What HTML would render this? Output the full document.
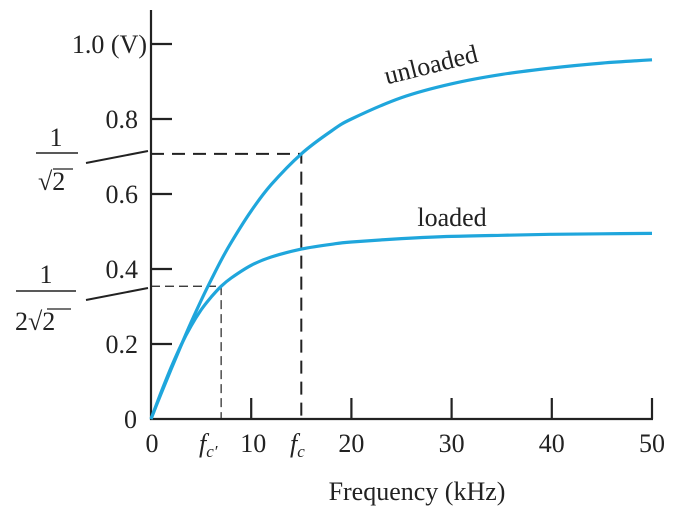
<!DOCTYPE html>
<html><head><meta charset="utf-8"><style>
body{margin:0;background:#fff}
text{font-family:"Liberation Serif","DejaVu Serif",serif !important;fill:#222}
</style></head><body>
<svg width="684" height="521" viewBox="0 0 684 521" style="position:absolute;left:0;top:0">
<g id="axes" stroke="#222" stroke-width="2.2" fill="none"></g>
<g id="guides"></g>
<g id="series"></g>
<g id="labels"></g>
</svg>
<script>
const freqs=[0,1,2,3,4,5,6,7,8,10,12,15,18,20,25,30,35,40,45,50];
const unloaded=[0,.067,.132,.196,.258,.316,.371,.423,.471,.555,.625,.707,.768,.8,.857,.894,.919,.936,.949,.958];
const loaded=[0,.071,.137,.197,.248,.291,.325,.354,.376,.41,.432,.453,.466,.472,.481,.487,.49,.4925,.494,.495];
const xTicks=[10,20,30,40,50];
const yTicks=[0.2,0.4,0.6,0.8,1.0];
const yTickLabels=["0.2","0.4","0.6","0.8","1.0 (V)"];
const fc=15, fcp=7, vfc=0.707, vfcp=0.354;

const X=f=>151+f*10.02, Y=v=>419-v*375;
const NS="http://www.w3.org/2000/svg";
function mk(parent,tag,attrs,text){const e=document.createElementNS(NS,tag);for(const k in attrs)e.setAttribute(k,attrs[k]);if(text!==undefined)e.textContent=text;document.getElementById(parent).appendChild(e);return e;}

let e=mk('axes','path',{d:`M151 10 V419 H653`});


xTicks.forEach(t=>{const l=mk('axes','line',{x1:X(t),x2:X(t),y1:419,y2:398});


const tx=mk('labels','text',{x:X(t)+(t===10?2:0),y:452,'font-size':26,'text-anchor':'middle'},String(t));

});
yTicks.forEach((t,i)=>{const l=mk('axes','line',{x1:151,x2:172,y1:Y(t),y2:Y(t)});


const tx=mk('labels','text',{x:i===4?147:138,y:Y(t)+9,'font-size':26,'text-anchor':'end'},yTickLabels[i]);

});

let g=mk('guides','path',{d:`M151 ${Y(vfc)} H${X(fc)} V419`,stroke:'#222','stroke-width':2,fill:'none','stroke-dasharray':'13 8'});


g=mk('guides','path',{d:`M151 ${Y(vfcp)} H${X(fcp)} V419`,stroke:'#222','stroke-width':1.2,fill:'none','stroke-dasharray':'9 5'});


g=mk('guides','path',{d:`M86 163 L148 151 M86 300 L148 288`,stroke:'#222','stroke-width':2,fill:'none'});



function line(vals,name){
const P=freqs.map((f,i)=>[X(f),Y(vals[i])]);
let d='M'+P[0][0].toFixed(1)+' '+P[0][1].toFixed(1);
for(let i=0;i<P.length-1;i++){const p0=P[Math.max(0,i-1)],p1=P[i],p2=P[i+1],p3=P[Math.min(P.length-1,i+2)];
const c1=[p1[0]+(p2[0]-p0[0])/6,p1[1]+(p2[1]-p0[1])/6],c2=[p2[0]-(p3[0]-p1[0])/6,p2[1]-(p3[1]-p1[1])/6];
d+=`C${c1[0].toFixed(1)} ${c1[1].toFixed(1)} ${c2[0].toFixed(1)} ${c2[1].toFixed(1)} ${p2[0].toFixed(1)} ${p2[1].toFixed(1)}`;}
const p=mk('series','path',{d,stroke:'#1fa6dc','stroke-width':3.2,fill:'none','stroke-linejoin':'round'});

}
line(unloaded,'unloaded-line');line(loaded,'loaded-line');

const T=[[433,73,'unloaded',-14,'unloaded-label'],[452,226,'loaded',0,'loaded-label'],[417,500,'Frequency (kHz)',0,'x-axis-title']];
T.forEach(([x,y,s,r,n])=>{const t=mk('labels','text',{x,y,'font-size':26,'text-anchor':'middle',transform:`rotate(${r} ${x} ${y})`},s);

});
</script>
<svg width="684" height="521" style="position:absolute;left:0;top:0">
<g font-size="26" fill="#222">
<text x="56" y="146" text-anchor="middle">1</text>
<line x1="36" y1="153" x2="78" y2="153" stroke="#222" stroke-width="1.5"/>
<text x="38" y="190">√2</text>
<line x1="53" y1="169" x2="73" y2="169" stroke="#222" stroke-width="1.3"/>
<text x="46" y="283" text-anchor="middle">1</text>
<line x1="16" y1="291" x2="76" y2="291" stroke="#222" stroke-width="1.5"/>
<text x="15" y="330">2√2</text>
<line x1="47" y1="309" x2="71" y2="309" stroke="#222" stroke-width="1.3"/>
<text x="199" y="452" font-style="italic">f<tspan font-size="17" dy="5">c′</tspan></text>
<text x="290" y="452" font-style="italic">f<tspan font-size="17" dy="5">c</tspan></text>
<text x="152" y="452" text-anchor="middle">0</text>
<text x="137" y="428" text-anchor="end">0</text>
</g></svg>
</body></html>
